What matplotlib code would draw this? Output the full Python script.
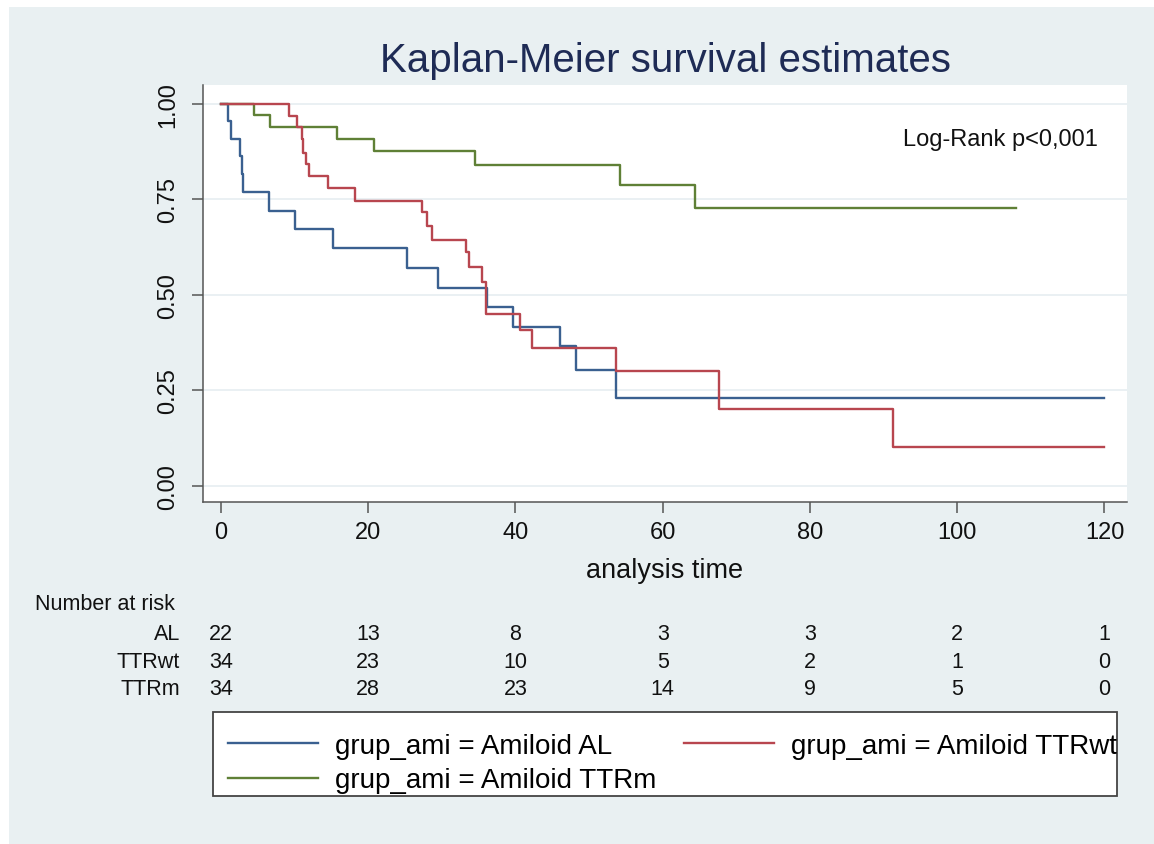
import matplotlib
matplotlib.use("Agg")
import matplotlib.pyplot as plt
import matplotlib.transforms as mtransforms
from matplotlib.patches import Rectangle

plt.rcParams.update({
    "font.family": ["Liberation Sans", "DejaVu Sans"],
})

BG = "#E9F0F2"
BLUE = "#3A6090"
RED = "#B8464F"
GREEN = "#5F8036"
TITLE_C = "#1E2B55"

# Kaplan-Meier step data (time of event, survival after the step)
al_t = [0, 1.0, 1.3, 2.6, 2.8, 3.0, 6.5, 10.0, 15.2, 25.3, 29.5, 36.1, 39.6, 46.1, 48.2, 53.7, 120]
al_s = [1.0, 0.955, 0.908, 0.864, 0.818, 0.769, 0.720, 0.673, 0.622, 0.570, 0.519, 0.467, 0.417,
        0.365, 0.303, 0.229, 0.229]

wt_t = [0, 9.3, 10.3, 11.0, 11.2, 11.6, 11.9, 14.6, 18.2, 27.3, 28.0, 28.6, 33.3, 33.7, 35.4, 36.0,
        40.6, 42.3, 53.7, 67.6, 91.3, 120]
wt_s = [1.0, 0.969, 0.939, 0.908, 0.873, 0.843, 0.811, 0.780, 0.747, 0.716, 0.681, 0.644, 0.611,
        0.572, 0.533, 0.450, 0.408, 0.360, 0.301, 0.201, 0.101, 0.101]

m_t = [0, 4.5, 6.6, 15.7, 20.8, 34.5, 54.2, 64.4, 108]
m_s = [1.0, 0.971, 0.940, 0.908, 0.876, 0.840, 0.788, 0.728, 0.728]

risk_times = [0, 20, 40, 60, 80, 100, 120]
risk_labels = ["AL", "TTRwt", "TTRm"]
risk_al = [22, 13, 8, 3, 3, 2, 1]
risk_wt = [34, 23, 10, 5, 2, 1, 0]
risk_m = [34, 28, 23, 14, 9, 5, 0]

W, H = 1154, 845
fig = plt.figure(figsize=(W / 100, H / 100), dpi=100, facecolor="white")
fig.patches.append(Rectangle((9 / W, 0), 1, 1 - 8 / H, transform=fig.transFigure,
                             facecolor=BG, edgecolor="none", zorder=-10))

# plot region: x 203..1127 px, y 86..503 px
ax = fig.add_axes([203 / W, 1 - 503 / H, 924 / W, 417 / H])
ax.set_facecolor("white")

ax.step(al_t, al_s, where="post", color=BLUE, lw=1.7, label="grup_ami = Amiloid AL")
ax.step(m_t, m_s, where="post", color=GREEN, lw=1.7, label="grup_ami = Amiloid TTRm")
ax.step(wt_t, wt_s, where="post", color=RED, lw=1.7, label="grup_ami = Amiloid TTRwt")

ax.set_xlim(-2.44, 123.06)
ax.set_ylim(-0.043, 1.050)
ax.set_xticks(risk_times)
ax.set_yticks([0, 0.25, 0.5, 0.75, 1.0])
ax.set_yticklabels(["0.00", "0.25", "0.50", "0.75", "1.00"], rotation=90, va="center")
ax.tick_params(axis="both", direction="out", length=8, width=1.1, color="#555555",
               labelsize=17, labelcolor="#111111", pad=6)
ax.tick_params(axis="y", pad=9)
ax.yaxis.grid(True, color="#E6EEF1", lw=1.2)
ax.set_axisbelow(True)
for side in ("top", "right"):
    ax.spines[side].set_visible(False)
for side in ("left", "bottom"):
    ax.spines[side].set_color("#555555")
    ax.spines[side].set_linewidth(1.1)

ax.set_xlabel("analysis time", fontsize=19.5, color="#111111", labelpad=10)
fig.text(666 / W, 1 - 61 / H, "Kaplan-Meier survival estimates", fontsize=29,
         color=TITLE_C, ha="center", va="center")
ax.text(1098 / W, 1 - 140 / H, "Log-Rank p<0,001", transform=fig.transFigure, fontsize=17,
        ha="right", va="center", color="#111111")

# number at risk table
tr = mtransforms.blended_transform_factory(ax.transData, fig.transFigure)
fig.text(35 / W, 1 - 604 / H, "Number at risk", fontsize=15.5, ha="left", va="center",
         color="#111111")
for row, (lab, vals) in enumerate(zip(risk_labels, [risk_al, risk_wt, risk_m])):
    yy = 1 - (635 + row * 27.5) / H
    fig.text(180 / W, yy, lab, fontsize=15.5, ha="right", va="center", color="#111111")
    for t, v in zip(risk_times, vals):
        fig.text(t, yy, str(v), transform=tr, fontsize=15.5, ha="center", va="center",
                 color="#111111")

# legend: entries without frame, box drawn separately
handles, labels = ax.get_legend_handles_labels()
fig.legend(handles, labels, ncol=2, loc="upper left",
           bbox_to_anchor=(228 / W, 1 - 734 / H), fontsize=20, frameon=False,
           handlelength=3.24, handletextpad=0.61, columnspacing=1.0,
           borderaxespad=0, borderpad=0, labelspacing=0.3)
fig.patches.append(Rectangle((213 / W, 1 - 797 / H), 904 / W, 84 / H, transform=fig.transFigure,
                             facecolor="white", edgecolor="#444444", lw=1.3, zorder=-5))

fig.savefig("out.png", dpi=100, facecolor=fig.get_facecolor())
